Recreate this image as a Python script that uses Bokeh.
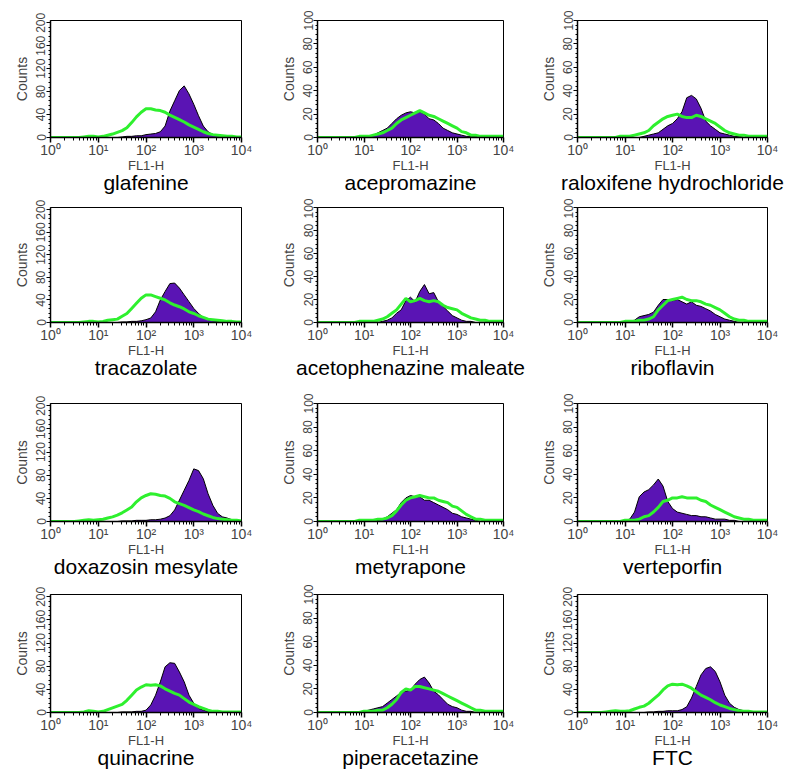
from bokeh.plotting import figure
from bokeh.layouts import column, row
from bokeh.models import (Range1d, FixedTicker, SingleIntervalTicker, CustomJSTickFormatter,
                          Title, BoxAnnotation)
from bokeh.embed import file_html
from bokeh.resources import INLINE

# FL1-H channel positions (log10 of fluorescence), 0.1-decade bins
fl1_log10 = [0.0, 0.1, 0.2, 0.3, 0.4, 0.5, 0.6, 0.7, 0.8, 0.9,
             1.0, 1.1, 1.2, 1.3, 1.4, 1.5, 1.6, 1.7, 1.8, 1.9,
             2.0, 2.1, 2.2, 2.3, 2.4, 2.5, 2.6, 2.7, 2.8, 2.9,
             3.0, 3.1, 3.2, 3.3, 3.4, 3.5, 3.6, 3.7, 3.8, 3.9, 4.0]

decade_ticks = [1, 10, 100, 1000, 10000]
decade_labels = ["10\u2070", "10\u00b9", "10\u00b2", "10\u00b3", "10\u2074"]

panel_names = ["glafenine", "acepromazine", "raloxifene hydrochloride",
               "tracazolate", "acetophenazine maleate", "riboflavin",
               "doxazosin mesylate", "metyrapone", "verteporfin",
               "quinacrine", "piperacetazine", "FTC"]
panel_ymax = [200, 100, 100, 200, 100, 100, 200, 100, 100, 200, 100, 200]

# green = control, purple = drug-treated
glafenine_ctrl = [0,0,0,0,0,0,0,1,2,2, 1,2,4,6,9,12,17,26,36,44, 50,50,48,47,44,39,35,31,27,22, 18,14,10,7,5,4,3,2,2,1,1]
glafenine_drug = [0,0,0,0,0,0,0,0,0,0, 0,0,0,0,0,1,2,2,3,3, 5,6,7,10,20,46,64,82,90,76, 58,38,20,10,5,3,2,1,1,1,0]
acepromazine_ctrl = [0,0,0,0,0,0,0,0,0,1, 1,1,2,3,4,6,8,12,15,17, 19,21,23,21,19,18,16,14,12,10, 8,5,4,2,2,1,1,1,1,1,1]
acepromazine_drug = [0,0,0,0,0,0,0,0,0,0, 0,0,2,4,6,8,12,16,19,21, 22,21,22,20,16,15,12,8,6,4, 3,2,1,1,1,0,0,0,0,0,0]
raloxifene_ctrl = [0,0,0,0,0,0,0,0,0,1, 1,1,2,3,4,6,10,13,16,18, 19,20,18,17,17,19,18,16,14,12, 9,6,4,3,2,2,1,1,1,1,1]
raloxifene_drug = [0,0,0,0,0,0,0,0,0,0, 0,0,0,0,1,2,3,4,7,10, 12,16,22,34,36,33,25,14,10,7, 4,3,2,1,1,0,0,0,0,0,0]
tracazolate_ctrl = [0,0,0,0,0,0,0,1,2,2, 1,2,4,5,6,11,16,25,34,43, 49,49,46,43,40,35,31,28,24,19, 16,12,9,6,5,4,3,2,2,1,1]
tracazolate_drug = [0,0,0,0,0,0,0,0,0,0, 0,0,0,0,0,1,1,2,2,3, 5,8,19,40,55,69,70,61,49,37, 25,16,9,5,3,2,1,1,0,0,0]
acetophenazine_ctrl = [0,0,0,0,0,0,0,0,0,1, 1,1,1,2,3,5,8,11,16,21, 18,19,21,19,18,19,18,15,13,12, 11,8,6,4,3,2,2,1,1,1,1]
acetophenazine_drug = [0,0,0,0,0,0,0,0,0,0, 0,0,0,0,1,2,4,8,11,19, 22,18,27,33,25,26,18,14,10,6, 4,2,1,1,0,0,0,0,0,0,0]
riboflavin_ctrl = [0,0,0,0,0,0,0,0,0,0, 1,1,1,2,2,3,5,11,15,19, 20,21,22,20,19,19,18,16,15,13, 11,8,5,3,2,2,1,1,1,1,1]
riboflavin_drug = [0,0,0,0,0,0,0,0,0,0, 1,1,2,5,6,7,9,15,20,20, 19,20,18,16,18,15,14,12,10,7, 5,3,2,1,0,0,0,0,0,0,0]
doxazosin_ctrl = [0,0,0,0,0,0,1,2,3,2, 3,4,6,8,11,15,20,25,34,41, 45,48,47,45,44,40,34,31,28,24, 20,17,13,10,7,5,4,3,2,2,1]
doxazosin_drug = [0,0,0,0,0,0,0,0,0,0, 0,0,0,0,0,1,1,1,2,2, 2,3,3,4,6,10,20,37,54,71, 91,88,74,48,28,14,8,6,3,1,0]
metyrapone_ctrl = [0,0,0,0,0,0,0,0,0,1, 1,1,1,2,2,3,5,9,14,18, 20,21,22,21,20,20,18,17,16,13, 12,9,6,4,2,2,1,1,1,1,1]
metyrapone_drug = [0,0,0,0,0,0,0,0,0,0, 0,0,0,1,2,4,7,10,16,20, 22,21,21,18,18,16,14,12,10,7, 6,4,3,2,1,0,0,0,0,0,0]
verteporfin_ctrl = [0,0,0,0,0,0,0,0,0,0, 1,1,1,2,4,5,8,12,17,18, 20,20,21,20,20,20,18,17,14,12, 10,8,6,4,3,2,2,1,1,1,1]
verteporfin_drug = [0,0,0,0,0,0,0,0,0,0, 1,2,8,21,25,27,31,36,30,17, 11,8,7,6,5,5,4,4,3,2, 2,2,1,1,0,0,0,0,0,0,0]
quinacrine_ctrl = [0,0,0,0,0,0,0,1,3,2, 1,2,5,8,11,14,21,30,39,44, 48,47,48,46,41,37,33,30,24,18, 14,10,7,4,2,2,1,1,1,1,1]
quinacrine_drug = [0,0,0,0,0,0,0,0,0,0, 0,0,0,0,0,1,1,1,2,2, 4,13,30,53,79,86,85,70,53,30, 16,7,4,2,1,0,0,0,0,0,0]
piperacetazine_ctrl = [0,0,0,0,0,0,0,0,0,0, 1,1,1,2,2,4,7,11,17,20, 19,22,22,21,20,19,18,16,14,12, 10,8,6,4,2,2,1,1,1,1,1]
piperacetazine_drug = [0,0,0,0,0,0,0,0,0,0, 1,2,3,4,5,8,11,14,17,18, 19,24,28,30,25,18,15,11,7,5, 4,2,1,1,0,0,0,0,0,0,0]
ftc_ctrl = [0,0,0,0,0,0,1,2,3,2, 2,3,6,9,11,16,23,30,39,46, 49,48,49,46,42,36,30,26,22,17, 13,10,7,5,3,2,2,1,1,1,1]
ftc_drug = [0,0,0,0,0,0,0,0,0,0, 0,0,0,0,0,1,1,2,2,3, 3,3,5,10,25,45,65,76,79,71, 53,30,16,9,5,3,2,1,0,0,0]

panel_ctrl = [glafenine_ctrl, acepromazine_ctrl, raloxifene_ctrl,
              tracazolate_ctrl, acetophenazine_ctrl, riboflavin_ctrl,
              doxazosin_ctrl, metyrapone_ctrl, verteporfin_ctrl,
              quinacrine_ctrl, piperacetazine_ctrl, ftc_ctrl]
panel_drug = [glafenine_drug, acepromazine_drug, raloxifene_drug,
              tracazolate_drug, acetophenazine_drug, riboflavin_drug,
              doxazosin_drug, metyrapone_drug, verteporfin_drug,
              quinacrine_drug, piperacetazine_drug, ftc_drug]

PURPLE = "#5a14b4"
GREEN = "#2ef02e"
NARROW = "Liberation Sans Narrow, Liberation Sans, Arial, sans-serif"
SANS = "Liberation Sans, Arial, sans-serif"

# layout (pixels)
COL_L = [50, 49, 45]
COL_FW = [191, 186, 190]
COL_R = [27, 29, 33]
ROW_T = [20, 9, 20, 12]
ROW_FH = [117, 115, 118, 118]
ROW_B = [61, 61, 61, 61]

x_vals = [10 ** d for d in fl1_log10]
minor = [m * t for t in decade_ticks[:-1] for m in range(2, 10)]

rows = []
for r in range(4):
    figs = []
    for c in range(3):
        i = r * 3 + c
        ymax = panel_ymax[i]
        p = figure(x_axis_type="log", x_range=Range1d(1, 10000),
                   y_range=Range1d(0, ymax * 1.02 if ymax == 200 else ymax),
                   frame_width=COL_FW[c], frame_height=ROW_FH[r],
                   min_border_left=COL_L[c], min_border_right=COL_R[c],
                   min_border_top=ROW_T[r], min_border_bottom=ROW_B[r],
                   output_backend="svg", toolbar_location=None,
                   background_fill_color="white", border_fill_color="white",
                   outline_line_color="black", outline_line_width=1)
        p.xgrid.visible = False
        p.ygrid.visible = False

        p.varea(x=x_vals, y1=0, y2=panel_drug[i], fill_color=PURPLE)
        p.line(x_vals, panel_drug[i], line_color="black", line_width=1)
        p.line(x_vals, panel_ctrl[i], line_color=GREEN, line_width=3)
        p.add_layout(BoxAnnotation(fill_alpha=0, fill_color=None, line_color="black",
                                   line_width=1, line_alpha=1))

        xa = p.xaxis[0]
        xa.ticker = FixedTicker(ticks=decade_ticks, minor_ticks=minor)
        xa.formatter = CustomJSTickFormatter(
            args=dict(dec_ticks=decade_ticks, dec_labels=decade_labels),
            code="const k = dec_ticks.indexOf(Math.round(tick)); return k >= 0 ? dec_labels[k] : '';")
        xa.axis_label = "FL1-H"
        xa.axis_label_text_font = SANS
        xa.axis_label_text_font_size = "13px"
        xa.axis_label_text_font_style = "normal"
        xa.axis_label_standoff = -3
        xa.major_label_text_font = SANS
        xa.major_label_text_font_size = "14px"
        xa.major_label_standoff = -1
        xa.major_tick_out = 5
        xa.major_tick_in = 0
        xa.minor_tick_out = 3
        xa.minor_tick_in = 0
        xa.axis_line_width = 1.5
        xa.major_tick_line_width = 1.5

        ya = p.yaxis[0]
        ya.ticker = SingleIntervalTicker(interval=ymax // 5, num_minor_ticks=5)
        ya.axis_label = "Counts"
        ya.axis_label_text_font = NARROW
        ya.axis_label_text_font_size = "14px"
        ya.axis_label_text_font_style = "normal"
        ya.axis_label_standoff = 4
        ya.major_label_text_font = NARROW
        ya.major_label_text_font_size = "12px"
        ya.major_label_orientation = "vertical"
        ya.major_label_standoff = 1
        ya.major_tick_out = 4
        ya.major_tick_in = 0
        ya.minor_tick_out = 2
        ya.minor_tick_in = 0
        ya.axis_line_width = 1.5

        p.add_layout(Title(text=panel_names[i], align="center", vertical_align="top",
                           text_font=SANS, text_font_size="21px", text_font_style="normal",
                           text_color="black", standoff=-10, offset=0), "below")
        figs.append(p)
    rows.append(row(figs, spacing=0))

layout = column(rows, spacing=0)
open("out.html", "w").write(file_html(layout, INLINE))
